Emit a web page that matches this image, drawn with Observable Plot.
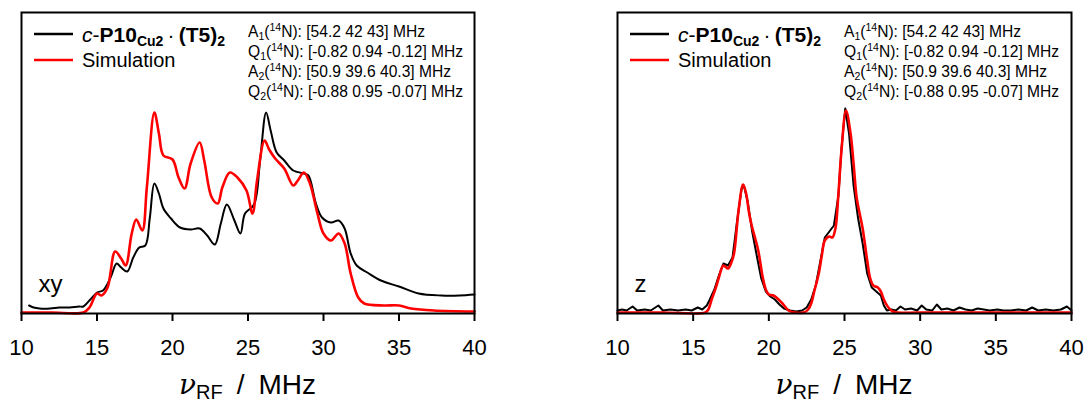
<!DOCTYPE html>
<html><head><meta charset="utf-8">
<script src="https://cdn.jsdelivr.net/npm/d3@7"></script>
<script src="https://cdn.jsdelivr.net/npm/@observablehq/plot@0.6"></script>
<style>
body{margin:0;background:#fff;}
#wrap{display:flex;width:1086px;height:401px;}
.panel{width:543px;height:401px;}
</style></head><body>
<div id="wrap"><div class="panel" id="p1"></div><div class="panel" id="p2"></div></div>
<script>
// x ticks (MHz)
const xTicks = [10, 15, 20, 25, 30, 35, 40];

// xy orientation – experiment [MHz, intensity a.u.]
const xyExperiment = [
  [10.5,8],[10.8,6],[11.2,5],[11.9,5],[12.5,6],[13.2,6],[13.8,7],[14.1,7],[14.5,13],[15.0,21],[15.4,23],
  [15.9,36],[16.3,50],[16.6,46],[17.0,42],[17.4,56],[17.8,66],[18.2,68],[18.5,96],[18.8,130],[19.1,120],
  [19.4,105],[19.9,95],[20.5,86],[21.2,84],[21.8,85],[22.3,78],[22.8,69],[23.2,90],[23.6,109],[24.1,93],
  [24.5,80],[24.8,100],[25.4,109],[25.8,153],[26.2,201],[26.5,183],[26.9,161],[27.4,153],[28.0,143],
  [28.7,140],[29.0,138],[29.5,110],[29.9,96],[30.5,91],[31.0,93],[31.4,85],[31.8,60],[32.2,48],[32.9,41],
  [33.8,33],[35.0,27],[36.3,20],[37.8,18],[39.0,18],[40.0,19]
];
// xy orientation – simulation
const xySimulation = [
  [10.0,1],[12.0,1],[14.1,1],[14.5,6],[15.0,20],[15.3,18],[15.7,26],[16.2,62],[16.6,55],[16.9,48],[17.3,80],
  [17.6,94],[18.0,83],[18.3,126],[18.8,201],[19.1,180],[19.4,158],[20.0,154],[20.4,136],[20.8,125],[21.2,150],
  [21.8,171],[22.1,153],[22.6,116],[23.0,110],[23.3,126],[23.8,141],[24.3,136],[24.9,123],[25.3,100],
  [25.6,133],[26.1,173],[26.4,164],[26.8,155],[27.4,145],[28.0,128],[28.3,133],[28.7,141],[29.1,130],
  [29.6,100],[30.0,80],[30.5,73],[31.0,80],[31.4,70],[31.8,40],[32.3,16],[32.7,10],[34.0,8],[35.0,8],
  [35.8,5],[37.3,3],[40.0,2]
];
// z orientation – experiment
const zExperiment = [
  [10.0,3],[10.3,4],[10.6,3],[11.0,7],[11.3,3],[11.8,4],[12.2,3],[12.7,8],[13.0,3],[13.5,4],[14.0,3],
  [14.5,4],[14.9,3],[15.3,6],[15.6,4],[15.9,8],[16.1,14],[16.4,24],[16.7,38],[17.0,50],[17.3,48],[17.6,56],
  [17.9,92],[18.2,125],[18.35,128],[18.6,112],[18.9,82],[19.2,58],[19.5,35],[19.8,22],[20.1,17],[20.4,14],
  [20.7,9],[21.0,5],[21.4,3],[21.8,2],[22.2,3],[22.5,6],[22.8,14],[23.1,28],[23.4,52],[23.7,76],[24.0,82],
  [24.3,88],[24.6,118],[24.8,165],[25.05,205],[25.3,180],[25.6,128],[25.9,95],[26.2,70],[26.5,40],[26.8,26],
  [27.1,22],[27.4,18],[27.6,8],[27.8,3],[28.1,4],[28.4,3],[28.7,7],[29.0,4],[29.4,5],[29.8,3],[30.1,8],
  [30.4,4],[30.8,3],[31.1,9],[31.4,4],[31.8,5],[32.2,3],[32.6,6],[33.0,4],[33.4,3],[33.8,5],[34.2,4],
  [34.6,3],[35.1,4],[35.5,3],[36.0,3],[36.5,4],[37.0,3],[37.4,6],[37.8,3],[38.3,4],[38.8,3],[39.3,4],
  [39.7,7],[40.0,3]
];
// z orientation – simulation
const zSimulation = [
  [10.0,1],[13.0,1],[15.8,1],[16.0,4],[16.2,13],[16.5,26],[16.7,36],[17.0,48],[17.3,45],[17.5,50],[17.7,60],
  [18.0,103],[18.3,129],[18.5,120],[18.7,100],[18.9,86],[19.1,75],[19.3,63],[19.6,36],[19.8,24],[20.0,19],
  [20.3,18],[20.5,16],[20.9,10],[21.3,3],[21.7,1],[22.3,1],[22.6,4],[22.8,10],[23.0,22],[23.3,40],[23.5,58],
  [23.7,73],[24.0,77],[24.2,76],[24.4,85],[24.6,120],[24.8,163],[25.1,203],[25.4,180],[25.6,150],[25.8,116],
  [26.0,100],[26.2,85],[26.5,53],[26.7,35],[26.9,28],[27.2,26],[27.4,22],[27.6,14],[27.9,6],[28.2,2],
  [28.5,1],[31.0,1],[35.0,1],[40.0,1]
];

const legendLabels = ["Experiment", "Simulation"];
const paramLines = [
  ["A", "1", "[54.2 42 43]"],
  ["Q", "1", "[-0.82 0.94 -0.12]"],
  ["A", "2", "[50.9 39.6 40.3]"],
  ["Q", "2", "[-0.88 0.95 -0.07]"]
];
const panelTags = ["xy", "z"];

const FONT = '"Liberation Sans", Arial, sans-serif';

function makePanel(el, exp, sim, tag, ml, mr, expCurve) {
  const W = 543, H = 401, MT = 12, MB = 88;
  const chart = Plot.plot({
    width: W, height: H, marginTop: MT, marginBottom: MB, marginLeft: ml, marginRight: mr,
    x: {domain: [10, 40]},
    y: {domain: [0, 301], axis: null},
    style: {fontFamily: FONT, color: "#000", background: "#fff", overflow: "visible"},
    marks: [
      Plot.line(exp, {x: d => d[0], y: d => d[1], stroke: "#000", strokeWidth: 2, curve: expCurve}),
      Plot.line(sim, {x: d => d[0], y: d => d[1], stroke: "#ff0000", strokeWidth: 2.6, curve: "catmull-rom"}),
      Plot.frame({stroke: "#000", strokeWidth: 2}),
      Plot.axisX({ticks: xTicks, tickSize: 8, tickPadding: 18, strokeWidth: 2, fontSize: 22, label: null, tickFormat: d => String(d)}),
      Plot.text([tag], {text: d => d, frameAnchor: "bottom-left", textAnchor: "start", lineAnchor: "middle", dx: 17, dy: -29, fontSize: 24, fill: "#000"})
    ]
  });
  el.appendChild(chart);
  const svg = d3.select(chart);
  const x0 = ml;
  const cx = ml + (W - ml - mr) / 2;
  // axis label
  const lab = svg.append("text").attr("x", cx).attr("y", 394).attr("text-anchor", "middle")
    .attr("font-family", FONT).attr("font-size", 28).attr("fill", "#000");
  lab.append("tspan").attr("font-family", '"DejaVu Serif", serif').attr("font-style", "italic").attr("font-size", 28).text("ν");
  lab.append("tspan").attr("font-size", 20).attr("dy", 5).text("RF");
  lab.append("tspan").attr("dy", -5).text("\u2002/\u2002MHz");
  // legend
  const g = svg.append("g").attr("font-family", FONT).attr("fill", "#000").attr("text-anchor", "start");
  const rows = [{y: 34, color: "#000"}, {y: 60, color: "#ff0000"}];
  rows.forEach(r => {
    g.append("line").attr("x1", x0 + 13).attr("x2", x0 + 52).attr("y1", r.y).attr("y2", r.y)
      .attr("stroke", r.color).attr("stroke-width", 2.6);
  });
  const t1 = g.append("text").attr("x", x0 + 61).attr("y", 42).attr("font-size", 21);
  t1.append("tspan").attr("font-style", "italic").text("c");
  t1.append("tspan").text("-");
  t1.append("tspan").attr("font-weight", "bold").text("P10");
  t1.append("tspan").attr("font-weight", "bold").attr("font-size", 14).attr("dy", 4).text("Cu2");
  t1.append("tspan").attr("dy", -4).text("\u2009·\u2009");
  t1.append("tspan").attr("font-weight", "bold").text("(T5)");
  t1.append("tspan").attr("font-weight", "bold").attr("font-size", 14).attr("dy", 4).text("2");
  g.append("text").attr("x", x0 + 61).attr("y", 67).attr("font-size", 20).text(legendLabels[1]);
  // parameter lines
  paramLines.forEach((p, i) => {
    const t = g.append("text").attr("x", x0 + 227).attr("y", 37 + i * 20).attr("font-size", 15.6);
    t.append("tspan").text(p[0]);
    t.append("tspan").attr("font-size", 10.5).attr("dy", 3).text(p[1]);
    t.append("tspan").attr("dy", -3).text("(");
    t.append("tspan").attr("font-size", 10.5).attr("dy", -6).text("14");
    t.append("tspan").attr("dy", 6).text("N): " + p[2] + " MHz");
  });
}

makePanel(document.getElementById("p1"), xyExperiment, xySimulation, panelTags[0], 21, 69, "catmull-rom");
makePanel(document.getElementById("p2"), zExperiment, zSimulation, panelTags[1], 74, 15, "linear");
</script>
</body></html>
